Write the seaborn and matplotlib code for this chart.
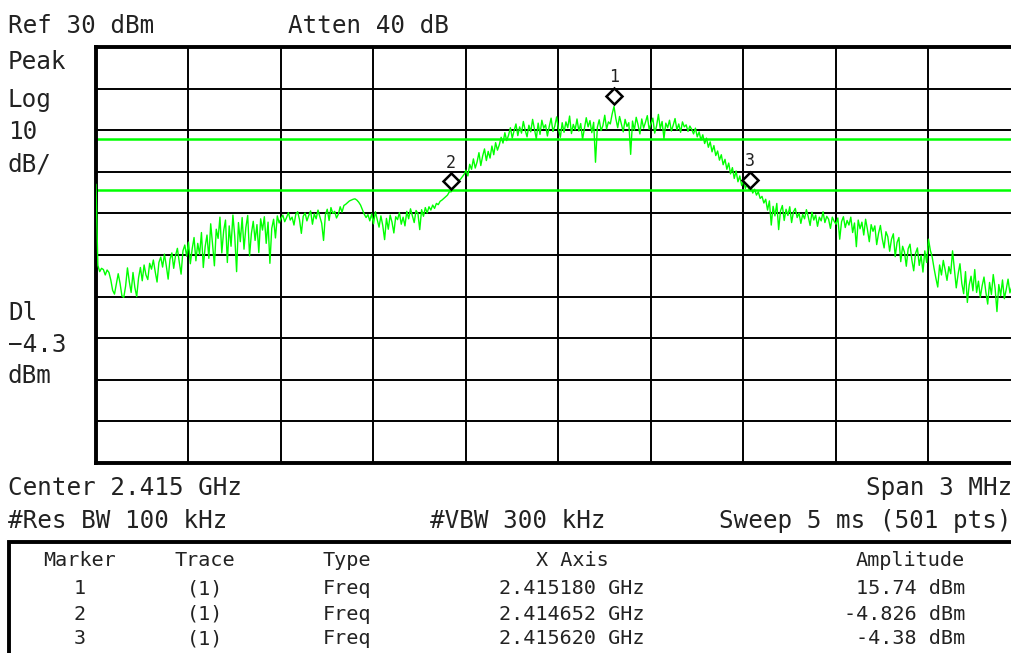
import numpy as np
import pandas as pd
import matplotlib
matplotlib.use("Agg")
import matplotlib.pyplot as plt
import matplotlib.transforms as mtransforms
from matplotlib.patches import Rectangle
import seaborn as sns

# ---------------- data ----------------
center_ghz = 2.415
span_mhz = 3.0
ref_dbm = 30
db_per_div = 10
display_line_dbm = -4.3
threshold_dbm = 8.0

trace_dbm = [
    -3.0, -22.5, -24.0, -23.2, -23.5, -24.8, -23.6, -24.2, -26.0, -28.5, -29.4, -27.0, -24.5, -26.8, -29.8, -30.2, -27.5, -23.1, -26.4, -29.0,
    -24.2, -27.8, -30.0, -25.5, -23.0, -26.2, -22.4, -24.8, -25.9, -22.0, -23.4, -21.2, -24.0, -26.5, -21.8, -20.5, -22.9, -19.8, -22.6, -25.8,
    -21.0, -19.5, -23.2, -20.1, -18.4, -21.7, -24.6, -19.0, -17.6, -20.3, -16.9, -22.1, -18.5, -15.8, -21.4, -17.2, -19.9, -14.6, -23.0, -18.0,
    -15.2, -20.8, -12.5, -17.4, -22.6, -13.8, -16.0, -10.9, -19.5, -14.2, -11.6, -21.8, -13.0, -17.9, -10.4, -15.5, -24.0, -12.2, -16.8, -11.0,
    -18.6, -13.4, -10.5, -20.2, -14.8, -11.9, -16.5, -12.7, -19.4, -11.3, -14.0, -10.8, -17.2, -12.1, -22.0, -13.6, -11.4, -15.9, -10.6, -12.3,
    -11.2, -10.4, -12.0, -11.0, -9.8, -11.6, -10.9, -12.8, -10.2, -9.6, -11.5, -14.8, -10.7, -9.9, -11.8, -10.5, -9.4, -12.6, -10.1, -11.3,
    -9.2, -10.8, -12.4, -16.5, -10.3, -9.0, -11.7, -8.6, -10.0, -9.5, -11.1, -10.2, -8.4, -9.7, -8.1, -7.8, -7.4, -7.0, -6.8, -6.6,
    -6.5, -6.8, -7.3, -8.0, -9.1, -10.2, -11.0, -10.3, -11.8, -10.1, -12.5, -9.6, -11.4, -13.3, -10.6, -12.9, -16.3, -11.2, -13.8, -10.4,
    -12.1, -14.7, -10.8, -11.5, -9.8, -12.6, -10.9, -13.0, -9.5, -11.3, -8.9, -10.6, -12.2, -9.3, -10.0, -13.9, -9.1, -10.7, -8.6, -9.9,
    -8.4, -9.2, -8.0, -8.8, -7.6, -7.9, -7.1, -6.8, -6.4, -6.0, -5.6, -4.8, -4.8, -3.8, -3.3, -2.9, -2.1, -1.8, -1.2, -0.6,
    0.4, -1.0, 1.8, 0.6, 3.1, 0.9, 2.4, 4.6, 1.5, 3.8, 5.5, 2.7, 4.9, 3.3, 6.2, 4.1, 7.0, 5.2, 6.5, 8.3,
    6.9, 9.4, 7.5, 8.8, 10.6, 8.1, 9.9, 11.5, 8.7, 10.8, 9.3, 12.1, 10.0, 8.4, 11.2, 9.6, 12.6, 10.3, 7.9, 11.7,
    9.0, 12.4, 10.5, 11.3, 8.6, 10.9, 12.9, 9.7, 11.0, 13.2, 10.2, 8.3, 11.8, 9.5, 12.0, 10.6, 13.4, 9.2, 11.4, 10.1,
    12.7, 9.8, 11.6, 7.8, 10.4, 13.0, 10.8, 12.3, 9.4, 11.9, 2.3, 10.7, 12.5, 9.9, 11.1, 13.6, 10.3, 12.0, 11.5, 13.9,
    15.7, 12.8, 10.6, 13.3, 11.4, 9.6, 12.6, 10.9, 11.8, 4.2, 12.2, 10.0, 13.1, 11.3, 9.1, 12.7, 10.5, 11.9, 13.5, 10.2,
    11.6, 12.9, 9.3, 11.0, 13.8, 10.4, 12.1, 8.0, 11.7, 10.6, 12.4, 9.8, 11.2, 12.8, 10.1, 11.5, 9.5, 12.0, 10.8, 11.3,
    9.7, 11.0, 10.2, 9.1, 10.5, 8.4, 9.6, 7.6, 8.9, 6.8, 8.1, 5.9, 7.2, 4.8, 6.3, 3.9, 5.0, 2.8, 4.1, 1.7,
    3.0, 0.6, 2.1, -0.5, 1.0, -1.6, 0.2, -2.4, -1.0, -3.3, -2.0, -4.0, -2.9, -4.4, -3.6, -5.1, -4.2, -5.6, -4.8, -6.4,
    -5.9, -7.5, -6.6, -9.2, -7.0, -12.8, -8.3, -10.6, -7.6, -13.9, -9.4, -8.1, -11.7, -9.0, -10.5, -8.4, -12.2, -9.6, -8.8, -11.0,
    -9.9, -12.4, -10.2, -11.3, -9.1, -10.8, -12.9, -9.7, -11.6, -10.4, -13.1, -10.9, -11.8, -9.6, -12.2, -10.7, -11.4, -13.6, -10.9, -11.9,
    -12.6, -11.1, -16.2, -12.0, -10.8, -13.4, -11.7, -12.8, -10.9, -14.6, -12.3, -18.0, -11.6, -13.7, -12.1, -15.2, -11.4, -13.9, -16.8, -12.7,
    -14.3, -13.0, -17.5, -14.8, -12.9, -16.1, -18.3, -14.4, -15.6, -19.1, -16.2, -14.9, -20.4, -17.0, -15.8, -21.6, -17.9, -19.3, -22.7, -18.5,
    -17.4, -21.2, -23.8, -19.6, -18.3, -22.5, -20.1, -24.1, -19.0, -21.8, -16.2, -18.9, -20.5, -23.2, -25.6, -27.7, -22.4, -24.8, -21.3, -23.6,
    -26.1, -22.8, -24.5, -19.0, -23.4, -27.9, -24.6, -22.1, -26.8, -29.3, -24.0, -31.4, -27.2, -25.1, -28.6, -23.5, -29.0, -26.3, -30.2, -27.4,
    -25.3, -28.9, -31.8, -26.6, -29.5, -24.7, -28.0, -33.6, -27.1, -29.8, -26.0, -30.5, -28.3, -25.8, -29.1, -27.6, -31.0, -26.9, -28.7, -30.1,
    -27.8,
]

marker_ids = [1, 2, 3]
marker_traces = ["(1)", "(1)", "(1)"]
marker_types = ["Freq", "Freq", "Freq"]
marker_freq_ghz = [2.415180, 2.414652, 2.415620]
marker_amp_dbm = [15.74, -4.826, -4.38]

table_headers = ["Marker", "Trace", "Type", "X Axis", "Amplitude"]

# ---------------- figure ----------------
sns.set_theme(style="white")
plt.rcParams["font.family"] = ["DejaVu Sans Mono", "DejaVu Sans"]

W, H = 1012, 653
fig = plt.figure(figsize=(W / 100, H / 100), dpi=100)
fig.patch.set_facecolor("white")

def fx(x):
    return x / W

def fy(y):
    return 1 - y / H

ax = fig.add_axes([fx(96), fy(463), 925 / W, 416 / H])
ax.set_facecolor("white")

n = len(trace_dbm)
f_lo = center_ghz - span_mhz / 2000
f_hi = center_ghz + span_mhz / 2000
freq_ghz = np.linspace(f_lo, f_hi, n)
df = pd.DataFrame({"freq": freq_ghz, "dbm": trace_dbm})

sns.lineplot(data=df, x="freq", y="dbm", ax=ax, color="#00ff00", lw=1.0,
             sort=False, estimator=None, zorder=3)

ax.axhline(threshold_dbm, color="#00ff00", lw=1.8, zorder=2.5)
ax.axhline(display_line_dbm, color="#00ff00", lw=1.8, zorder=2.5)

ax.set_xlim(f_lo, f_hi)
ax.set_ylim(ref_dbm - 10 * db_per_div, ref_dbm)
ax.set_xticks(np.linspace(f_lo, f_hi, 11))
ax.set_yticks(np.arange(ref_dbm - 10 * db_per_div, ref_dbm + 1, db_per_div))
ax.grid(True, color="black", lw=1.4, zorder=1)
ax.set_axisbelow(True)
ax.tick_params(length=0, labelbottom=False, labelleft=False)
ax.set_xlabel("")
ax.set_ylabel("")
for s in ax.spines.values():
    s.set_color("black")
    s.set_linewidth(2.8)

# markers
diamond_tr = mtransforms.offset_copy(ax.transData, fig=fig, x=0, y=7.5, units="points")
for mid, f, a in zip(marker_ids, marker_freq_ghz, marker_amp_dbm):
    ax.plot([f], [a], marker="D", ms=8.5, mfc="white", mec="black", mew=1.8,
            transform=diamond_tr, zorder=5, clip_on=False)
    ax.annotate(str(mid), (f, a), xytext=(0, 21), textcoords="offset points",
                ha="center", va="center", fontsize=12, color="#222222", zorder=6)

# header / side texts
big = 17.5
def ftext(x, y, s, size=big, ha="left"):
    fig.text(fx(x), fy(y), s, fontsize=size, ha=ha, va="center", color="#222222")

ftext(8, 26, f"Ref {ref_dbm} dBm")
ftext(288, 26, "Atten 40 dB")
ftext(8, 62, "Peak")
ftext(8, 100, "Log")
ftext(8, 132, f"{db_per_div}")
ftext(8, 165, "dB/")
ftext(8, 313, "Dl")
ftext(8, 345, f"\u2212{abs(display_line_dbm):g}")
ftext(8, 376, "dBm")

ftext(8, 488, f"Center {center_ghz:g} GHz")
ftext(1012, 488, f"Span {span_mhz:g} MHz", ha="right")
ftext(8, 521, "#Res BW 100 kHz")
ftext(430, 521, "#VBW 300 kHz")
ftext(1012, 521, "Sweep 5 ms (501 pts)", ha="right")

# marker table
fig.patches.append(Rectangle((fx(9), -0.1), 1.2, fy(542) + 0.1, transform=fig.transFigure,
                             fill=False, ec="black", lw=2.8, figure=fig))
small = 14.5
col_x = [80, 205, 347, 572, 965]
col_ha = ["center", "center", "center", "center", "right"]
for cx, ha, h in zip(col_x, col_ha, table_headers):
    ftext(cx, 561, h, size=small, ha=ha)
row_y = [589, 614, 639]
for ry, mid, tr, ty, f, a in zip(row_y, marker_ids, marker_traces, marker_types,
                                 marker_freq_ghz, marker_amp_dbm):
    ftext(col_x[0], ry, str(mid), size=small, ha="center")
    ftext(col_x[1], ry, tr, size=small, ha="center")
    ftext(col_x[2], ry, ty, size=small, ha="center")
    ftext(col_x[3], ry, f"{f:.6f} GHz", size=small, ha="center")
    ftext(col_x[4], ry, f"{a:g} dBm", size=small, ha="right")

fig.savefig("out.png", dpi=100, facecolor="white")
